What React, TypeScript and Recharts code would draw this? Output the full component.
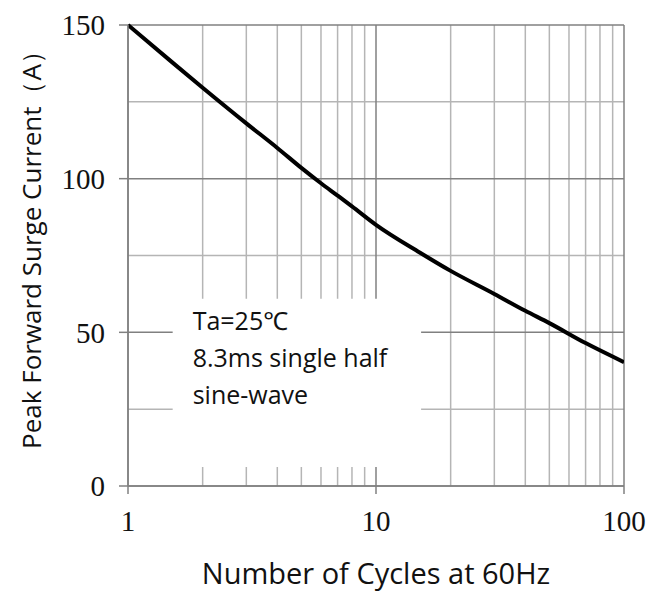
import React from "react";
import {
  LineChart, Line, XAxis, YAxis, ReferenceLine, ReferenceArea,
} from "recharts";

// cycles at 60Hz vs peak surge current (A)
const cycles = [1, 1.5, 2, 3, 4, 5, 6, 7, 8, 10, 15, 20, 30, 40, 50, 70, 100];
const current = [150, 138, 129.6, 118, 110, 103.5, 98.5, 94.5, 91, 85, 76, 70, 62.5, 57, 53, 46.5, 40.3];

const xTicks = [1, 10, 100];
const yTicks = [0, 50, 100, 150];
const xMinor = [2, 3, 4, 5, 6, 7, 8, 9, 20, 30, 40, 50, 60, 70, 80, 90];
const yMinor = [25, 75, 125];

const noteLines = ["Ta=25℃", "8.3ms single half", "sine-wave"];

const data = cycles.map((c, i) => ({ cycles: c, current: current[i] }));

const MAJOR = "#808080";
const MINOR = "#b5b5b5";
const SANS = "'Open Sans', 'Noto Sans', sans-serif";
const SERIF = "'Liberation Serif', 'DejaVu Serif', serif";

const NoteLabel = (props: any) => {
  const vb = props.viewBox || {};
  return (
    <text x={vb.x + 20} y={vb.y + 31} fontFamily={SANS} fontSize={25} fill="#111">
      {noteLines.map((t, i) => (
        <tspan key={t} x={vb.x + 20} dy={i === 0 ? 0 : 37}>{t}</tspan>
      ))}
    </text>
  );
};

export default function App() {
  return (
    <div style={{ position: "absolute", left: 0, top: 0, width: 663, height: 593, background: "#fff" }}>
      <LineChart
        width={663}
        height={593}
        data={data}
        margin={{ top: 25, right: 39, bottom: 57, left: 68 }}
      >
        <XAxis
          dataKey="cycles"
          type="number"
          scale="log"
          domain={[1, 100]}
          ticks={xTicks}
          allowDataOverflow
          height={50}
          stroke={MAJOR}
          strokeWidth={1.5}
          tickSize={8}
          tickMargin={16}
          tick={{ fill: "#111", fontFamily: SERIF, fontSize: 29 }}
          label={{
            value: "Number of Cycles at 60Hz",
            position: "bottom",
            offset: 27,
            fill: "#111",
            fontFamily: SANS,
            fontSize: 29,
          }}
        />
        <YAxis
          type="number"
          domain={[0, 150]}
          ticks={yTicks}
          width={60}
          stroke={MAJOR}
          strokeWidth={1.5}
          tickSize={9}
          tickMargin={14}
          tick={{ fill: "#111", fontFamily: SERIF, fontSize: 29 }}
          label={{
            value: "Peak Forward Surge Current（A）",
            angle: -90,
            position: "center",
            dx: -66,
            dy: -12,
            fill: "#111",
            fontFamily: SANS,
            fontSize: 26,
          }}
        />
        {xMinor.map((v) => (
          <ReferenceLine key={"xm" + v} x={v} stroke={MINOR} strokeWidth={1.5} zIndex={50} />
        ))}
        {yMinor.map((v) => (
          <ReferenceLine key={"ym" + v} y={v} stroke={MINOR} strokeWidth={1.5} zIndex={50} />
        ))}
        {xTicks.map((v) => (
          <ReferenceLine key={"xM" + v} x={v} stroke={MAJOR} strokeWidth={1.5} zIndex={55} />
        ))}
        {yTicks.map((v) => (
          <ReferenceLine key={"yM" + v} y={v} stroke={MAJOR} strokeWidth={1.5} zIndex={55} />
        ))}
        <ReferenceArea
          x1={1.514}
          x2={15.2}
          y1={6.2}
          y2={60.9}
          fill="#fff"
          fillOpacity={1}
          stroke="none"
          zIndex={60}
          label={<NoteLabel />}
        />
        <Line
          dataKey="current"
          type="monotone"
          stroke="#000"
          strokeWidth={4}
          dot={false}
          isAnimationActive={false}
        />
      </LineChart>
    </div>
  );
}
